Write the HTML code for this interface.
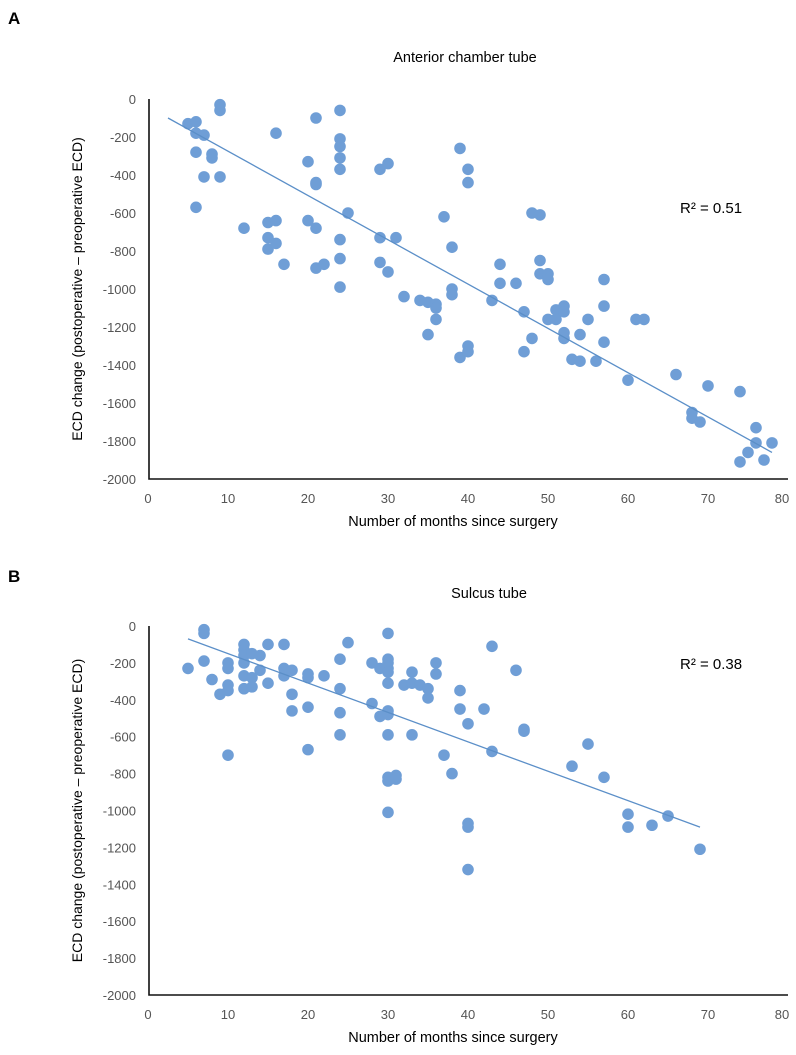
<!DOCTYPE html>
<html><head><meta charset="utf-8"><style>
body{margin:0;background:#fff;}
svg text{font-family:"Liberation Sans",sans-serif;}
</style></head><body>
<svg id="s" width="796" height="1050" xmlns="http://www.w3.org/2000/svg">
<text x="8" y="24" font-size="17" font-weight="bold">A</text>
<text x="8" y="582" font-size="17" font-weight="bold">B</text>
</svg>
<script>
const xTicks=[0,10,20,30,40,50,60,70,80];
const yTicks=[0,-200,-400,-600,-800,-1000,-1200,-1400,-1600,-1800,-2000];
const aX=[5,6,6,7,6,7,8,8,9,9,9,6,12,15,15,15,16,16,17,16,21,20,21,21,20,21,21,22,24,24,24,24,24,24,24,24,25,29,30,29,29,30,31,32,34,35,35,36,36,36,37,38,38,38,39,39,40,40,40,40,43,44,44,46,47,47,48,48,49,49,49,50,50,50,51,51,52,52,52,52,53,54,54,55,56,57,57,57,60,61,62,66,68,68,69,70,74,74,75,76,76,77,78];
const aY=[-130,-120,-180,-190,-280,-410,-290,-310,-30,-60,-410,-570,-680,-650,-730,-790,-640,-760,-870,-180,-100,-330,-440,-450,-640,-680,-890,-870,-60,-210,-250,-310,-370,-740,-840,-990,-600,-370,-340,-730,-860,-910,-730,-1040,-1060,-1070,-1240,-1080,-1100,-1160,-620,-780,-1000,-1030,-260,-1360,-370,-440,-1300,-1330,-1060,-870,-970,-970,-1120,-1330,-600,-1260,-610,-850,-920,-920,-950,-1160,-1110,-1160,-1090,-1120,-1230,-1260,-1370,-1240,-1380,-1160,-1380,-950,-1090,-1280,-1480,-1160,-1160,-1450,-1650,-1680,-1700,-1510,-1540,-1910,-1860,-1730,-1810,-1900,-1810];
const aTrend=[[2.5,-100],[78,-1860]];
const bX=[5,7,7,7,8,9,10,10,10,10,10,12,12,12,12,12,12,13,13,13,14,14,15,15,17,17,17,18,18,18,20,20,20,20,22,24,24,24,24,25,28,28,29,29,30,30,30,30,30,30,30,30,30,30,30,30,31,31,32,33,33,33,34,35,35,36,36,37,38,39,39,40,40,40,40,42,43,43,46,47,47,53,55,57,60,60,63,65,69];
const bY=[-230,-20,-40,-190,-290,-370,-200,-230,-320,-350,-700,-100,-130,-160,-200,-270,-340,-150,-280,-330,-160,-240,-100,-310,-100,-230,-270,-240,-370,-460,-260,-280,-440,-670,-270,-180,-340,-470,-590,-90,-200,-420,-230,-490,-40,-180,-200,-230,-250,-310,-460,-480,-590,-820,-840,-1010,-810,-830,-320,-250,-310,-590,-320,-340,-390,-200,-260,-700,-800,-350,-450,-530,-1070,-1090,-1320,-450,-110,-680,-240,-560,-570,-760,-640,-820,-1020,-1090,-1080,-1030,-1210];
const bTrend=[[5,-70],[69,-1090]];
const NS="http://www.w3.org/2000/svg";
const svg=document.getElementById('s');
function mk(t,a,txt){const e=document.createElementNS(NS,t);for(const k in a)e.setAttribute(k,a[k]);if(txt!==undefined)e.textContent=txt;svg.appendChild(e);return e;}
function chart(p,title,xs,ys,tr,r2,top,bot,r2y,tx,ty){
  const L=148,R=788;
  const sx=v=>L+(v-0)/80*(R-L);
  const sy=v=>top+(0-v)/2000*(bot-top);
  let e;
  e=mk('text',{x:tx,y:ty,'font-size':14.5,'text-anchor':'middle'},title);
  
  
  yTicks.forEach(t=>{e=mk('text',{x:136,y:sy(t)+5,'font-size':13,'text-anchor':'end',fill:'#555'},t);
  
  });
  xTicks.forEach(t=>{e=mk('text',{x:sx(t)-(t==80?6:0),y:bot+24,'font-size':13,'text-anchor':'middle',fill:'#555'},t);
  
  });
  e=mk('path',{d:`M${L+1} ${top}V${bot}H${R}`,stroke:'#111','stroke-width':1.6,fill:'none'});
  
  
  e=mk('text',{x:453,y:bot+47,'font-size':14.5,'text-anchor':'middle'},'Number of months since surgery');
  
  
  const cy=(top+bot)/2;
  e=mk('text',{x:0,y:0,'font-size':14,'text-anchor':'middle',transform:`translate(82,${cy}) rotate(-90)`},'ECD change (postoperative \u2013 preoperative ECD)');
  
  
  xs.forEach((x,i)=>{e=mk('circle',{cx:sx(x),cy:sy(ys[i]),r:5.8,fill:'#6f9ed6'});
  
  });
  e=mk('line',{x1:sx(tr[0][0]),y1:sy(tr[0][1]),x2:sx(tr[1][0]),y2:sy(tr[1][1]),stroke:'#5b8fc8','stroke-width':1.3});
  
  
  e=mk('text',{x:680,y:r2y,'font-size':15},r2);
  
  
}
chart('a','Anterior chamber tube',aX,aY,aTrend,'R\u00b2 = 0.51',99,479,213,465,62);
chart('b','Sulcus tube',bX,bY,bTrend,'R\u00b2 = 0.38',626,995,669,489,598);
</script>
</body></html>
